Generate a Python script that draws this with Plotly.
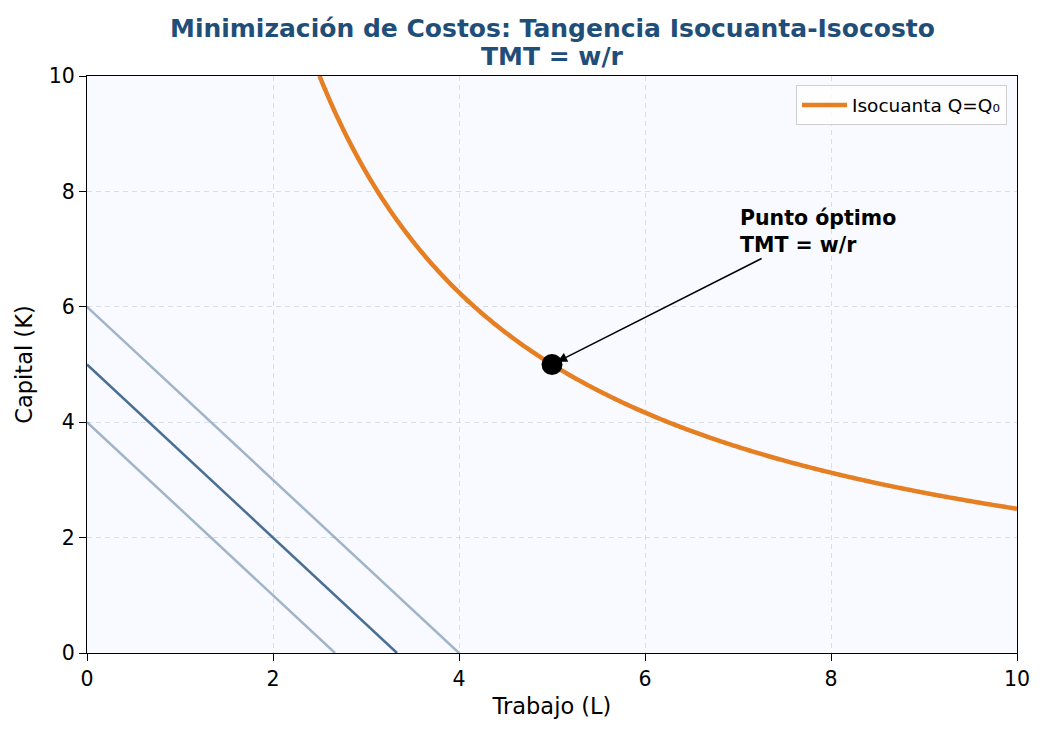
import numpy as np
import plotly.graph_objects as go

# Data
Q0 = 25.0  # isoquant constant: K = Q0 / L
L_curve = np.linspace(2.5, 10, 400)
K_curve = Q0 / L_curve
isocost_intercepts_K = [4.0, 5.0, 6.0]
isocost_slope = -1.5
isocost_colors = ["rgba(74,111,148,0.5)", "rgba(74,111,148,1)", "rgba(74,111,148,0.5)"]
optimum_L = [5.0]
optimum_K = [5.0]
title_lines = ["Minimización de Costos: Tangencia Isocuanta-Isocosto", "TMT = w/r"]

fig = go.Figure()

for b, c in zip(isocost_intercepts_K, isocost_colors):
    xend = -b / isocost_slope
    fig.add_trace(go.Scatter(x=[0, xend], y=[b, 0], mode="lines",
                             line=dict(color=c, width=2.5), showlegend=False, hoverinfo="skip"))

fig.add_trace(go.Scatter(x=L_curve, y=K_curve, mode="lines",
                         line=dict(color="#e67e22", width=4.5, simplify=False),
                         name="Isocuanta Q=Q₀"))

fig.add_trace(go.Scatter(x=optimum_L, y=optimum_K, mode="markers",
                         marker=dict(color="black", size=21), showlegend=False))

font_family = "DejaVu Sans"

fig.add_annotation(x=5, y=5, ax=7.27, ay=6.85, xref="x", yref="y", axref="x", ayref="y",
                   text="", showarrow=True, arrowhead=2, arrowsize=1.3, arrowwidth=1.5,
                   arrowcolor="black", standoff=6)
fig.add_annotation(x=7.0, y=6.83, xref="x", yref="y", xanchor="left", yanchor="bottom",
                   text="<b>Punto óptimo<br>TMT = w/r</b>", showarrow=False, align="left",
                   font=dict(family=font_family, size=20.5, color="black"))

# Title as two annotations for precise placement
for txt, yy in zip(title_lines, [1.0815, 1.0335]):
    fig.add_annotation(x=0.5, y=yy, xref="paper", yref="paper", xanchor="center", yanchor="middle",
                       text="<b>" + txt + "</b>", showarrow=False,
                       font=dict(size=25, color="#1f4e79", family=font_family))

axis_common = dict(range=[0, 10], dtick=2, showline=True, linecolor="black", linewidth=1.3,
                   mirror=True, ticks="outside", ticklen=7, tickwidth=1.3, tickcolor="black",
                   showgrid=True, gridcolor="rgba(190,198,212,0.55)", griddash="5px,4px", gridwidth=1.2,
                   zeroline=False, automargin=False,
                   tickfont=dict(size=20.5, family=font_family, color="black"))

fig.update_layout(
    width=1045, height=734,
    margin=dict(l=87, r=28, t=76, b=81),
    paper_bgcolor="white", plot_bgcolor="#f8faff",
    font=dict(family=font_family, color="black"),
    xaxis=dict(title=dict(text="Trabajo (L)", font=dict(size=22.5), standoff=8), **axis_common),
    yaxis=dict(title=dict(text="Capital (K)", font=dict(size=22.5), standoff=9), **axis_common),
    legend=dict(x=0.989, y=0.984, xanchor="right", yanchor="top", bgcolor="rgba(255,255,255,0.8)",
                bordercolor="#d0d0d0", borderwidth=1.2, itemwidth=45,
                font=dict(size=18.5, family=font_family)),
)

fig.write_html("out.html")
